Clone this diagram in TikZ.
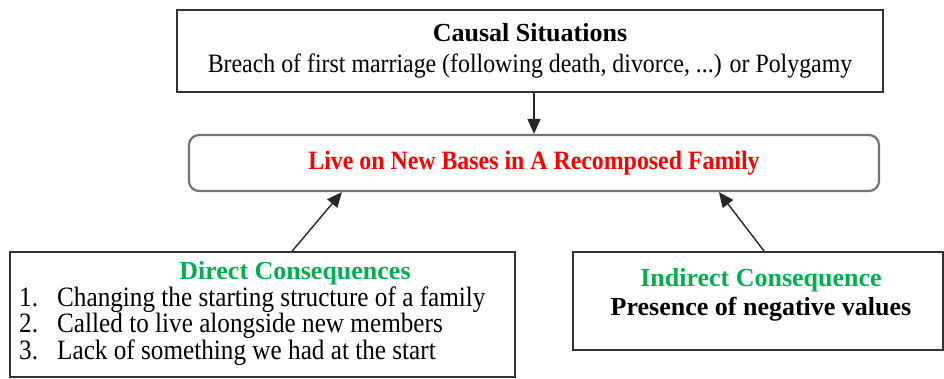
\documentclass[tikz,border=0pt]{standalone}
\usepackage{fontspec}
\setmainfont{Liberation Serif}
\newfontfamily\narrowserif[FakeStretch=0.9]{Liberation Serif}
\usetikzlibrary{arrows.meta,calc}
\definecolor{headgreen}{RGB}{0,176,80}

\begin{document}
\begin{tikzpicture}[
  x=1pt,
  y=-1pt,
  box/.style={draw=black!80,line width=1.7pt,inner sep=0pt},
  roundbox/.style={draw=black!55,line width=2.2pt,rounded corners=10pt,inner sep=0pt},
  head/.style={font=\fontsize{26}{30}\selectfont\bfseries},
  txt/.style={font=\narrowserif\fontsize{26.5}{31}\selectfont},
  item/.style={font=\narrowserif\fontsize{28}{28}\selectfont,anchor=west,inner sep=0pt},
  arr/.style={-{Triangle[length=15pt,width=13pt]},line width=1.4pt,black!85}
]
\useasboundingbox (0,0) rectangle (944,379);
\node[box,minimum width=706pt,minimum height=82pt,align=center,txt] (cause) at (530,51)
  {{\rmfamily\fontsize{26}{30}\selectfont\bfseries Causal Situations}\\Breach of first marriage (following death, divorce, ...) or Polygamy};
\node[roundbox,minimum width=690pt,minimum height=56pt,text=red,font=\narrowserif\fontsize{26.5}{30}\selectfont\bfseries] (live) at (534,163)
  {Live on New Bases in A Recomposed Family};
\node[box,minimum width=505pt,minimum height=125pt] (direct) at (262.5,314.5) {};
\node[head,text=headgreen] (directhead) at (295,273) {Direct Consequences};
\foreach \n/\t/\y in {1/Changing the starting structure of a family/300,
                      2/Called to live alongside new members/326,
                      3/Lack of something we had at the start/353}
  \node[item] (item\n) at (19,\y) {\makebox[38pt][l]{\n.}\t};
\node[box,minimum width=370pt,minimum height=98pt] (indirect) at (758,301) {};
\node[head,text=headgreen] (indirecthead) at (761,280) {Indirect Consequence};
\node[head] (indirecttext) at (761,309) {Presence of negative values};
\draw[arr] (cause.south -| live.north) -- (live.north);
\draw[arr] ($(direct.north west)+(283,0)$) -- ($(live.south west)+(154,0)$);
\draw[arr] ($(indirect.north west)+(192,0)$) -- ($(live.south west)+(531,0)$);
\end{tikzpicture}
\end{document}
